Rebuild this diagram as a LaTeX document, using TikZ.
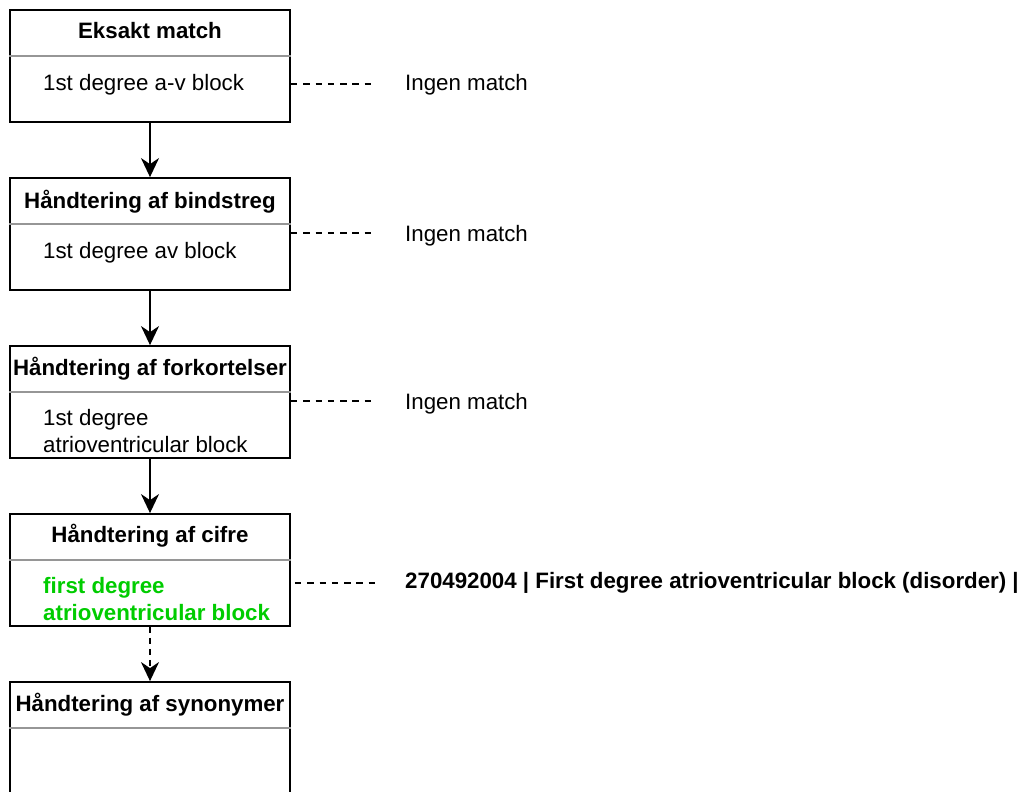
\documentclass[tikz,border=0pt]{standalone}
\usepackage{fontspec}
\setmainfont{Liberation Sans}
\usetikzlibrary{arrows.meta}
\definecolor{hitgreen}{RGB}{0,204,0}
\definecolor{rulegray}{RGB}{150,150,150}

\begin{document}
\begin{tikzpicture}[x=1pt,y=-1pt,
  stage/.style={draw=black, line width=1.8pt, minimum width=280pt,
    minimum height=112pt, inner sep=0pt},
  divider/.style={draw=rulegray, line width=1.8pt},
  heading/.style={font=\fontsize{22.3}{27}\selectfont\bfseries,
    inner sep=0pt, anchor=base},
  body/.style={font=\fontsize{22.3}{27}\selectfont, inner sep=0pt,
    anchor=base west, align=left},
  found/.style={body, font=\fontsize{22.3}{27}\selectfont\bfseries,
    text=hitgreen},
  result/.style={font=\fontsize{22.3}{27}\selectfont, inner sep=0pt,
    anchor=base west},
  flow/.style={draw=black, line width=1.6pt,
    -{Stealth[length=19pt, width=18pt, inset=6pt]}},
  probe/.style={draw=black, line width=1.4pt,
    dash pattern=on 6.5pt off 5.8pt},
]
\useasboundingbox (0,0) rectangle (1023,792);

% pipeline stages
\node[stage] (s1) at (150,66)  {};
\node[stage] (s2) at (150,234) {};
\node[stage] (s3) at (150,402) {};
\node[stage] (s4) at (150,570) {};
\node[stage] (s5) at (150,738) {};

% header / content separators
\draw[divider] ([yshift=-47pt]s1.north west) -- ([yshift=-47pt]s1.north east);
\draw[divider] ([yshift=-47pt]s2.north west) -- ([yshift=-47pt]s2.north east);
\draw[divider] ([yshift=-47pt]s3.north west) -- ([yshift=-47pt]s3.north east);
\draw[divider] ([yshift=-47pt]s4.north west) -- ([yshift=-47pt]s4.north east);
\draw[divider] ([yshift=-47pt]s5.north west) -- ([yshift=-47pt]s5.north east);

% stage headings
\node[heading] (h1) at (150,39)  {Eksakt match};
\node[heading] (h2) at (150,208) {Håndtering af bindstreg};
\node[heading] (h3) at (150,375) {Håndtering af forkortelser};
\node[heading] (h4) at (150,542) {Håndtering af cifre};
\node[heading] (h5) at (150,711) {Håndtering af synonymer};

% term after each stage (two-line terms sit on the baseline of their last line)
\node[body] (t1) at (43,90)  {1st degree a-v block};
\node[body] (t2) at (43,258) {1st degree av block};
\node[body] (t3) at (43,452) {1st degree\\atrioventricular block};
\node[found] (t4) at (43,620) {first degree\\atrioventricular block};

% lookup outcomes
\node[result] (r1) at (405,91)  {Ingen match};
\node[result] (r2) at (405,241) {Ingen match};
\node[result] (r3) at (405,409) {Ingen match};
\node[result, font=\fontsize{22.3}{27}\selectfont\bfseries] (r4) at (405,588)
  {270492004 | First degree atrioventricular block (disorder) |};

% ends of the lookup links
\coordinate (e1) at (375,84);
\coordinate (e2) at (375,233);
\coordinate (e3) at (375,401);
\coordinate (e4) at (377,583);

% flow between stages
\draw[flow] (s1.south) -- (s2.north);
\draw[flow] (s2.south) -- (s3.north);
\draw[flow] (s3.south) -- (s4.north);
\draw[flow, dash pattern=on 6pt off 5pt] (s4.south) -- (s5.north);

% lookup links
\draw[probe] (s1.east |- e1) -- (e1);
\draw[probe] (s2.east |- e2) -- (e2);
\draw[probe] (s3.east |- e3) -- (e3);
\draw[probe] ([xshift=4pt]s4.east |- e4) -- (e4);
\end{tikzpicture}
\end{document}
